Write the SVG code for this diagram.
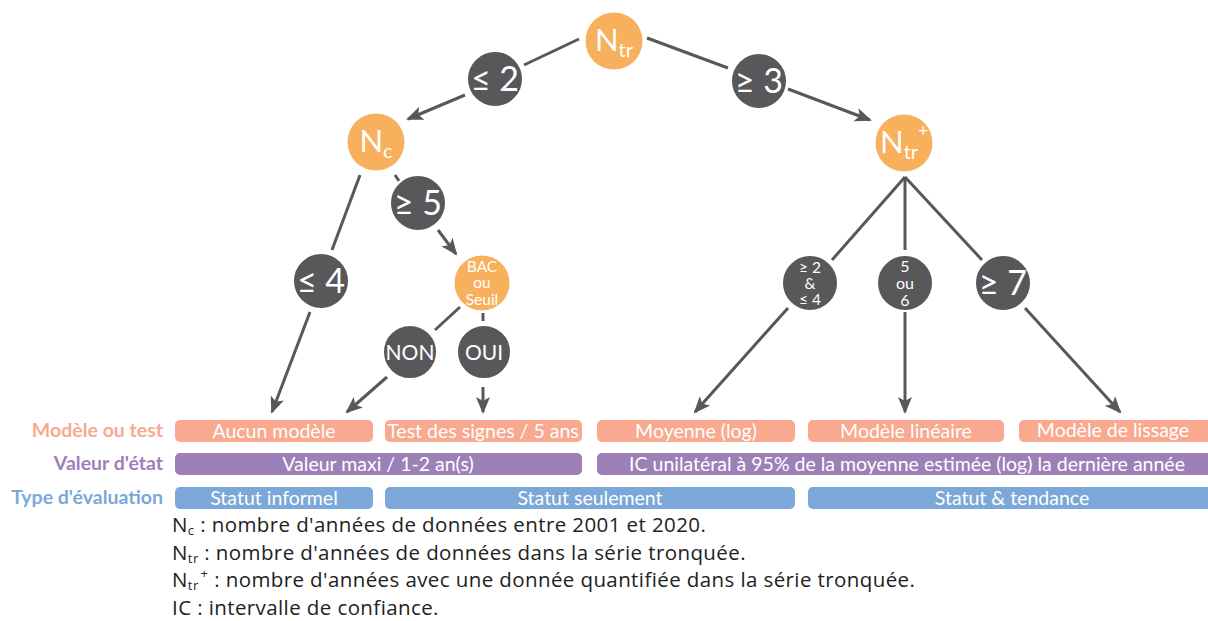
<svg xmlns="http://www.w3.org/2000/svg" width="1208" height="621" viewBox="0 0 1208 621">
<defs>
<marker id="arr" markerUnits="userSpaceOnUse" markerWidth="18" markerHeight="16" refX="15" refY="7" orient="auto" viewBox="0 0 18 14">
<path d="M0,0 L17,7 L0,14 L4,7 z" fill="#58585a"/>
</marker>
<style>
.cn line{stroke:#58585a;stroke-width:3;fill:none}
.a{marker-end:url(#arr)}
.d{fill:#58585a;stroke:#fff;stroke-width:2}
.o{fill:#f8b05d;stroke:#fff;stroke-width:1}
.t{font-family:Lato,"Open Sans",sans-serif;fill:#fff;text-anchor:middle}
.big{font-size:34px}
.lbl{font-family:Lato,"Open Sans",sans-serif;font-weight:bold;font-size:19.5px;text-anchor:end}
.bx{font-family:Lato,"Open Sans",sans-serif;font-size:19.5px;fill:#fff;text-anchor:middle}
.lg{font-family:"Open Sans",sans-serif;font-size:20.5px;letter-spacing:0.4px;fill:#222}
.r1{fill:#f8a98f}.r2{fill:#9e80b8}.r3{fill:#7ba8d8}
</style>
</defs>
<rect width="1208" height="621" fill="#fff"/>
<g id="connectors" class="cn">
<line x1="579" y1="39" x2="524" y2="65"/>
<line class="a" x1="465" y1="95" x2="408" y2="119"/>
<line x1="647" y1="38" x2="728" y2="68"/>
<line class="a" x1="788" y1="89" x2="870" y2="120"/>
<line x1="360" y1="175" x2="332" y2="250"/>
<line class="a" x1="310" y1="312" x2="272" y2="412"/>
<line x1="395" y1="175" x2="399" y2="181"/>
<line class="a" x1="438" y1="230" x2="456" y2="254"/>
<line x1="460" y1="307" x2="435" y2="330"/>
<line class="a" x1="387" y1="377" x2="347" y2="412"/>
<line x1="483" y1="313" x2="483" y2="321"/>
<line class="a" x1="483" y1="387" x2="483" y2="412"/>
<line x1="905" y1="177" x2="832" y2="260"/>
<line x1="905" y1="177" x2="905" y2="250"/>
<line x1="905" y1="177" x2="982" y2="260"/>
<line class="a" x1="788" y1="308" x2="695" y2="412"/>
<line class="a" x1="905" y1="312" x2="905" y2="412"/>
<line class="a" x1="1025" y1="308" x2="1120" y2="412"/>
</g>
<g id="n-ntr"><circle class="o" cx="614" cy="41" r="29"/><text class="t" x="614" y="51"><tspan font-size="31">N</tspan><tspan font-size="20" dy="6">tr</tspan></text></g>
<g id="n-le2"><circle class="d" cx="495" cy="79" r="28"/><text class="t big" x="495" y="91">≤ 2</text></g>
<g id="n-ge3"><circle class="d" cx="759" cy="81" r="28"/><text class="t big" x="759" y="93">≥ 3</text></g>
<g id="n-nc"><circle class="o" cx="376" cy="142" r="29"/><text class="t" x="376" y="152"><tspan font-size="31">N</tspan><tspan font-size="20" dy="6">c</tspan></text></g>
<g id="n-ntrp"><circle class="o" cx="904" cy="143" r="29"/><text class="t" x="904" y="153"><tspan font-size="31">N</tspan><tspan font-size="20" dy="6">tr</tspan><tspan font-size="17" dy="-22">+</tspan></text></g>
<g id="n-ge5"><circle class="d" cx="418" cy="203" r="28"/><text class="t big" x="418" y="215">≥ 5</text></g>
<g id="n-le4"><circle class="d" cx="321" cy="281" r="28"/><text class="t big" x="321" y="293">≤ 4</text></g>
<g id="n-bac"><circle class="o" cx="482" cy="283" r="28"/><text class="t" font-size="15.5"><tspan x="482" y="272">BAC</tspan><tspan x="482" y="288">ou</tspan><tspan x="482" y="305">Seuil</tspan></text></g>
<g id="n-non"><circle class="d" cx="410" cy="352" r="27"/><text class="t" font-size="21" x="410" y="360">NON</text></g>
<g id="n-oui"><circle class="d" cx="484" cy="352" r="27"/><text class="t" font-size="21" x="484" y="360">OUI</text></g>
<g id="n-24"><circle class="d" cx="810" cy="283" r="28"/><text class="t" font-size="15.5"><tspan x="810" y="273">≥ 2</tspan><tspan x="810" y="289">&amp;</tspan><tspan x="810" y="305">≤ 4</tspan></text></g>
<g id="n-56"><circle class="d" cx="905" cy="283" r="28"/><text class="t" font-size="16"><tspan x="905" y="272">5</tspan><tspan x="905" y="289">ou</tspan><tspan x="905" y="306">6</tspan></text></g>
<g id="n-ge7"><circle class="d" cx="1003" cy="283" r="28"/><text class="t big" x="1003" y="295">≥ 7</text></g>
<g id="row-labels">
<text class="lbl" x="163" y="437" fill="#f8a98f">Modèle ou test</text>
<text class="lbl" x="163" y="470" fill="#9e80b8">Valeur d'état</text>
<text class="lbl" x="163" y="504" fill="#7ba8d8">Type d'évaluation</text>
</g>
<g id="row1">
<rect class="r1" x="175" y="420" width="198" height="22" rx="5"/><text class="bx" x="274" y="438">Aucun modèle</text>
<rect class="r1" x="385" y="420" width="197" height="22" rx="5"/><text class="bx" x="483" y="438">Test des signes / 5 ans</text>
<rect class="r1" x="597" y="420" width="198" height="22" rx="5"/><text class="bx" x="696" y="438">Moyenne (log)</text>
<rect class="r1" x="808" y="420" width="196" height="22" rx="5"/><text class="bx" x="906" y="438">Modèle linéaire</text>
<rect class="r1" x="1019" y="420" width="194" height="22" rx="5"/><text class="bx" x="1113" y="437">Modèle de lissage</text>
</g>
<g id="row2">
<rect class="r2" x="175" y="453" width="407" height="22" rx="5"/><text class="bx" x="378" y="471">Valeur maxi / 1-2 an(s)</text>
<rect class="r2" x="597" y="453" width="616" height="22" rx="5"/><text class="bx" x="907" y="471">IC unilatéral à 95% de la moyenne estimée (log) la dernière année</text>
</g>
<g id="row3">
<rect class="r3" x="175" y="487" width="198" height="22" rx="5"/><text class="bx" x="274" y="505">Statut informel</text>
<rect class="r3" x="385" y="487" width="410" height="22" rx="5"/><text class="bx" x="590" y="505">Statut seulement</text>
<rect class="r3" x="808" y="487" width="405" height="22" rx="5"/><text class="bx" x="1012" y="505">Statut &amp; tendance</text>
</g>
<g id="legend">
<text class="lg" x="172" y="532">N<tspan font-size="13" dy="3">c</tspan><tspan dy="-3"> : nombre d'années de données entre 2001 et 2020.</tspan></text>
<text class="lg" x="172" y="560">N<tspan font-size="13" dy="3">tr</tspan><tspan dy="-3"> : nombre d'années de données dans la série tronquée.</tspan></text>
<text class="lg" x="172" y="587">N<tspan font-size="13" dy="3">tr</tspan><tspan font-size="13" dx="2" dy="-12">+</tspan><tspan dy="9"> : nombre d'années avec une donnée quantifiée dans la série tronquée.</tspan></text>
<text class="lg" x="172" y="615">IC : intervalle de confiance.</text>
</g>
</svg>
